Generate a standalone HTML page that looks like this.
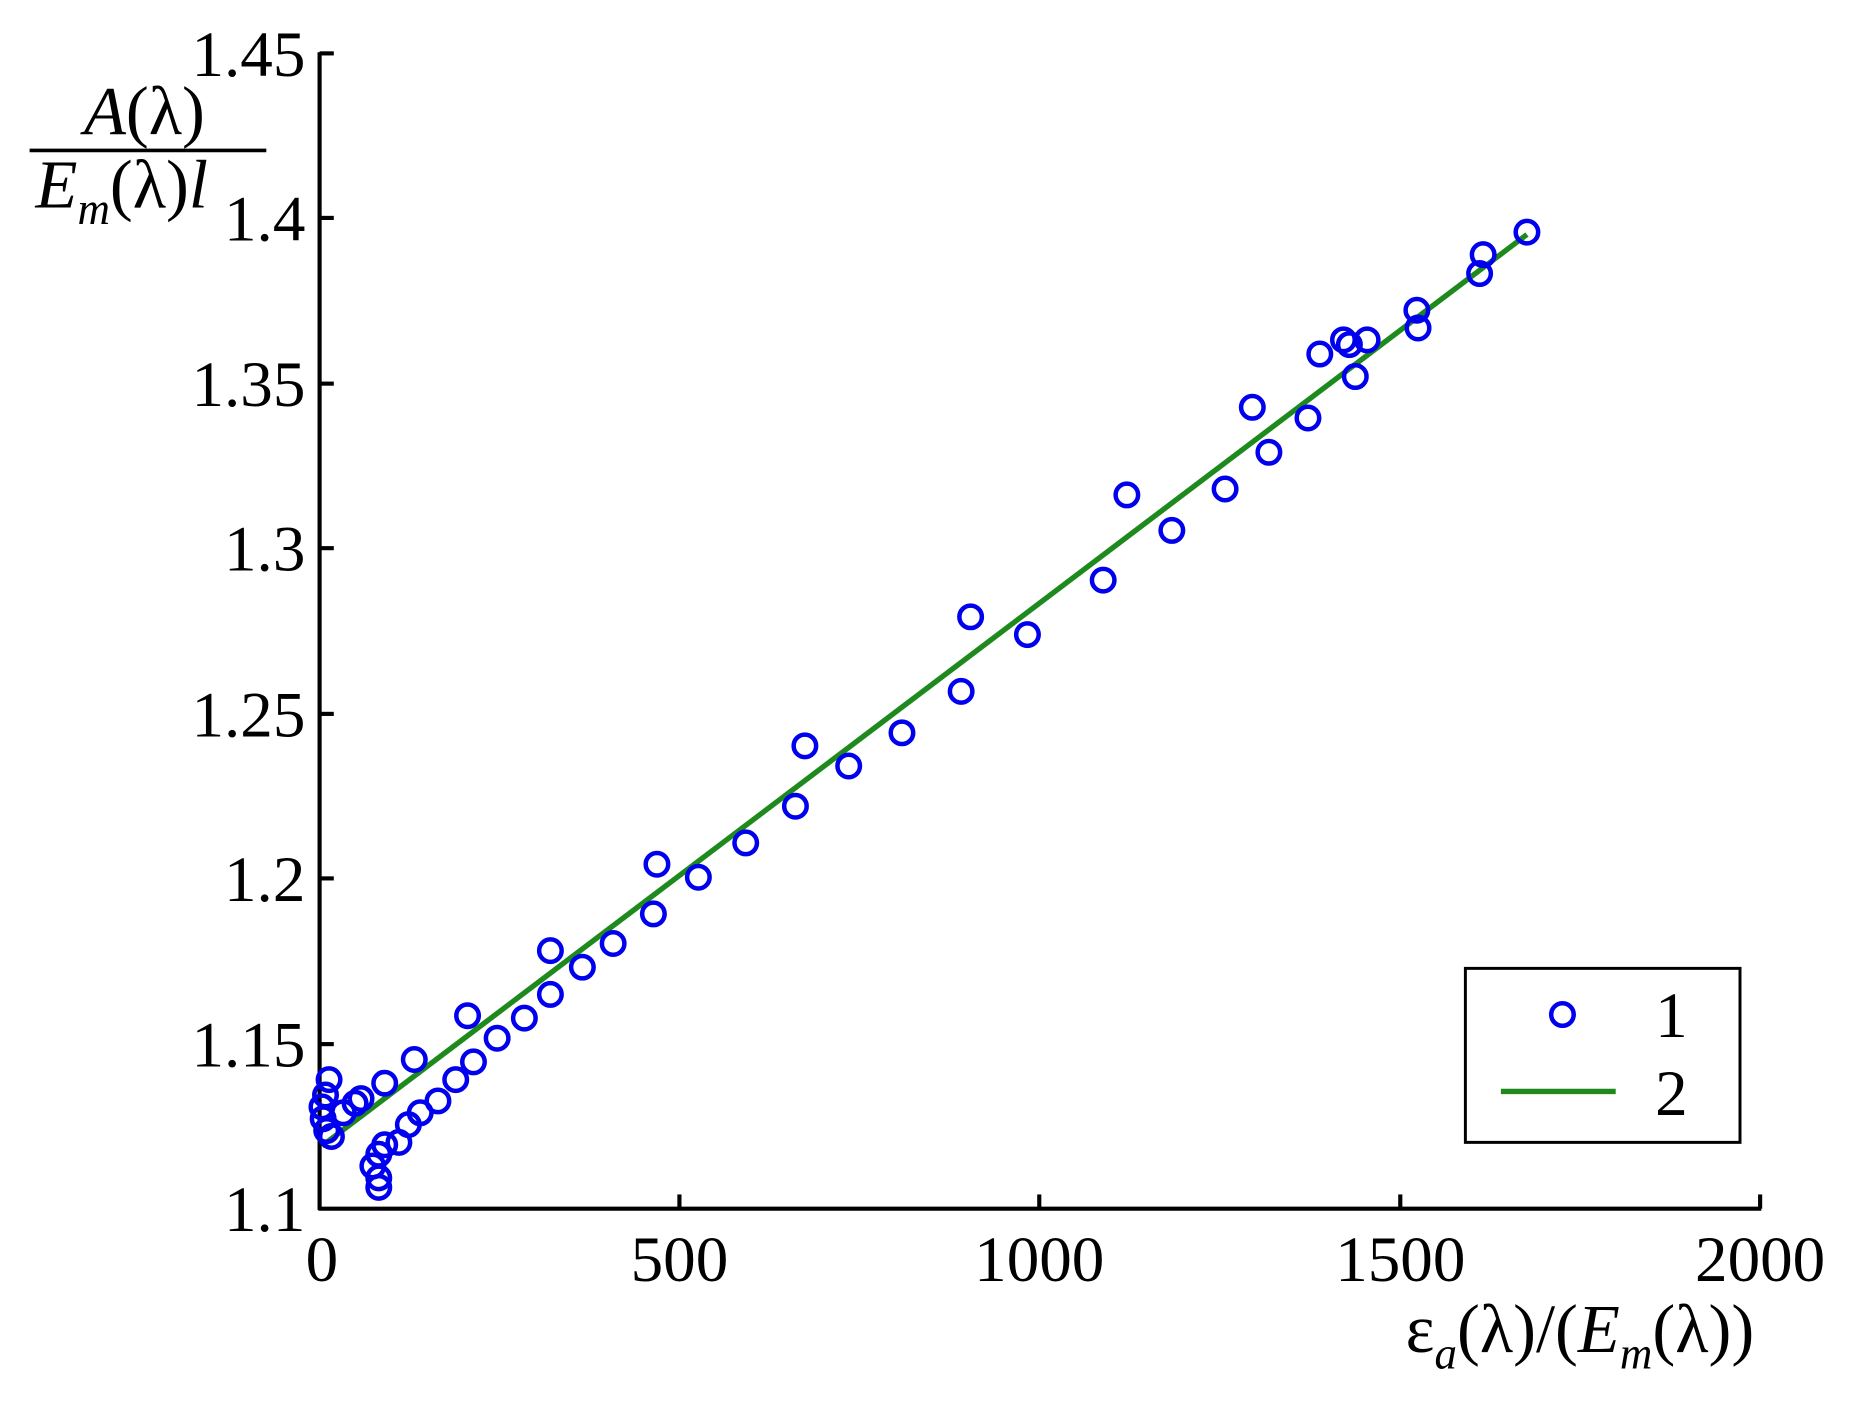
<!DOCTYPE html>
<html><head><meta charset="utf-8"><style>
html,body{margin:0;padding:0;background:#fff;}
svg{display:block;}
text{font-family:"Liberation Serif",serif;fill:#000;}
</style></head><body>
<svg width="1856" height="1410" viewBox="0 0 1568 1191" xmlns="http://www.w3.org/2000/svg">
<rect width="1568" height="1191" fill="#fff"/>
<g stroke="#000" stroke-width="3.5" fill="none">
<line x1="270" y1="44" x2="270" y2="1022"/>
<line x1="269" y1="1021" x2="1488" y2="1021"/>
<line x1="270" y1="45" x2="282" y2="45"/>
<line x1="270" y1="184" x2="282" y2="184"/>
<line x1="270" y1="324" x2="282" y2="324"/>
<line x1="270" y1="463" x2="282" y2="463"/>
<line x1="270" y1="603" x2="282" y2="603"/>
<line x1="270" y1="742" x2="282" y2="742"/>
<line x1="270" y1="882" x2="282" y2="882"/>
<line x1="574" y1="1021" x2="574" y2="1009"/>
<line x1="878" y1="1021" x2="878" y2="1009"/>
<line x1="1183" y1="1021" x2="1183" y2="1009"/>
<line x1="1487" y1="1021" x2="1487" y2="1009"/>
</g>
<g font-size="55" text-anchor="end">
<text x="258" y="64">1.45</text>
<text x="258" y="203">1.4</text>
<text x="258" y="343">1.35</text>
<text x="258" y="482">1.3</text>
<text x="258" y="622">1.25</text>
<text x="258" y="761">1.2</text>
<text x="258" y="901">1.15</text>
<text x="258" y="1040">1.1</text>
</g>
<g font-size="55" text-anchor="middle">
<text x="272" y="1082">0</text>
<text x="574" y="1082">500</text>
<text x="878" y="1082">1000</text>
<text x="1183" y="1082">1500</text>
<text x="1487" y="1082">2000</text>
</g>
<text x="1482" y="1142" font-size="58" text-anchor="end">ε<tspan font-style="italic" font-size="38" dy="14">a</tspan><tspan dy="-14">(λ)/(</tspan><tspan font-style="italic">E</tspan><tspan font-style="italic" font-size="38" dy="14">m</tspan><tspan dy="-14">(λ))</tspan></text>
<text x="122" y="113" font-size="58" text-anchor="middle"><tspan font-style="italic">A</tspan>(λ)</text>
<line x1="25" y1="127" x2="225" y2="127" stroke="#000" stroke-width="3"/>
<text x="30" y="175" font-size="58"><tspan font-style="italic">E</tspan><tspan font-style="italic" font-size="38" dy="14">m</tspan><tspan dy="-14">(λ)</tspan><tspan font-style="italic">l</tspan></text>
<line x1="272" y1="968" x2="1290" y2="198" stroke="#1e8a1e" stroke-width="4.5"/>
<g stroke="#0000ee" stroke-width="3.8" fill="none">
<circle cx="278" cy="912" r="9.5"/><circle cx="275" cy="925" r="9.5"/><circle cx="272" cy="935" r="9.5"/><circle cx="273" cy="945" r="9.5"/><circle cx="276" cy="955" r="9.5"/><circle cx="280" cy="960" r="9.5"/><circle cx="290" cy="940" r="9.5"/><circle cx="300" cy="932" r="9.5"/><circle cx="305" cy="928" r="9.5"/><circle cx="325" cy="915" r="9.5"/><circle cx="350" cy="895" r="9.5"/><circle cx="395" cy="858" r="9.5"/><circle cx="465" cy="803" r="9.5"/><circle cx="555" cy="730" r="9.5"/><circle cx="680" cy="630" r="9.5"/><circle cx="820" cy="521" r="9.5"/><circle cx="952" cy="418" r="9.5"/><circle cx="1058" cy="344" r="9.5"/><circle cx="1115" cy="299" r="9.5"/><circle cx="1135" cy="287" r="9.5"/><circle cx="1155" cy="287" r="9.5"/><circle cx="1197" cy="262" r="9.5"/><circle cx="1253" cy="215" r="9.5"/><circle cx="1290" cy="196" r="9.5"/>
<circle cx="320" cy="1003" r="9.5"/><circle cx="320" cy="995" r="9.5"/><circle cx="315" cy="985" r="9.5"/><circle cx="320" cy="975" r="9.5"/><circle cx="325" cy="967" r="9.5"/><circle cx="337" cy="965" r="9.5"/><circle cx="345" cy="950" r="9.5"/><circle cx="355" cy="940" r="9.5"/><circle cx="370" cy="930" r="9.5"/><circle cx="385" cy="912" r="9.5"/><circle cx="400" cy="897" r="9.5"/><circle cx="420" cy="877" r="9.5"/><circle cx="443" cy="860" r="9.5"/><circle cx="465" cy="840" r="9.5"/><circle cx="492" cy="817" r="9.5"/><circle cx="518" cy="797" r="9.5"/><circle cx="552" cy="772" r="9.5"/><circle cx="590" cy="741" r="9.5"/><circle cx="630" cy="712" r="9.5"/><circle cx="672" cy="681" r="9.5"/><circle cx="717" cy="647" r="9.5"/><circle cx="762" cy="619" r="9.5"/><circle cx="812" cy="584" r="9.5"/><circle cx="868" cy="536" r="9.5"/><circle cx="932" cy="490" r="9.5"/><circle cx="990" cy="448" r="9.5"/><circle cx="1035" cy="413" r="9.5"/><circle cx="1072" cy="382" r="9.5"/><circle cx="1105" cy="353" r="9.5"/><circle cx="1145" cy="318" r="9.5"/><circle cx="1140" cy="291" r="9.5"/><circle cx="1198" cy="277" r="9.5"/><circle cx="1250" cy="231" r="9.5"/>
</g>
<rect x="1238" y="818" width="232" height="147" fill="#fff" stroke="#000" stroke-width="2.5"/>
<circle cx="1320" cy="857" r="9.5" fill="none" stroke="#0000ee" stroke-width="3.8"/>
<text x="1412" y="876" font-size="55" text-anchor="middle">1</text>
<line x1="1268" y1="922" x2="1365" y2="922" stroke="#1e8a1e" stroke-width="4.5"/>
<text x="1412" y="942" font-size="55" text-anchor="middle">2</text>
</svg>
</body></html>
